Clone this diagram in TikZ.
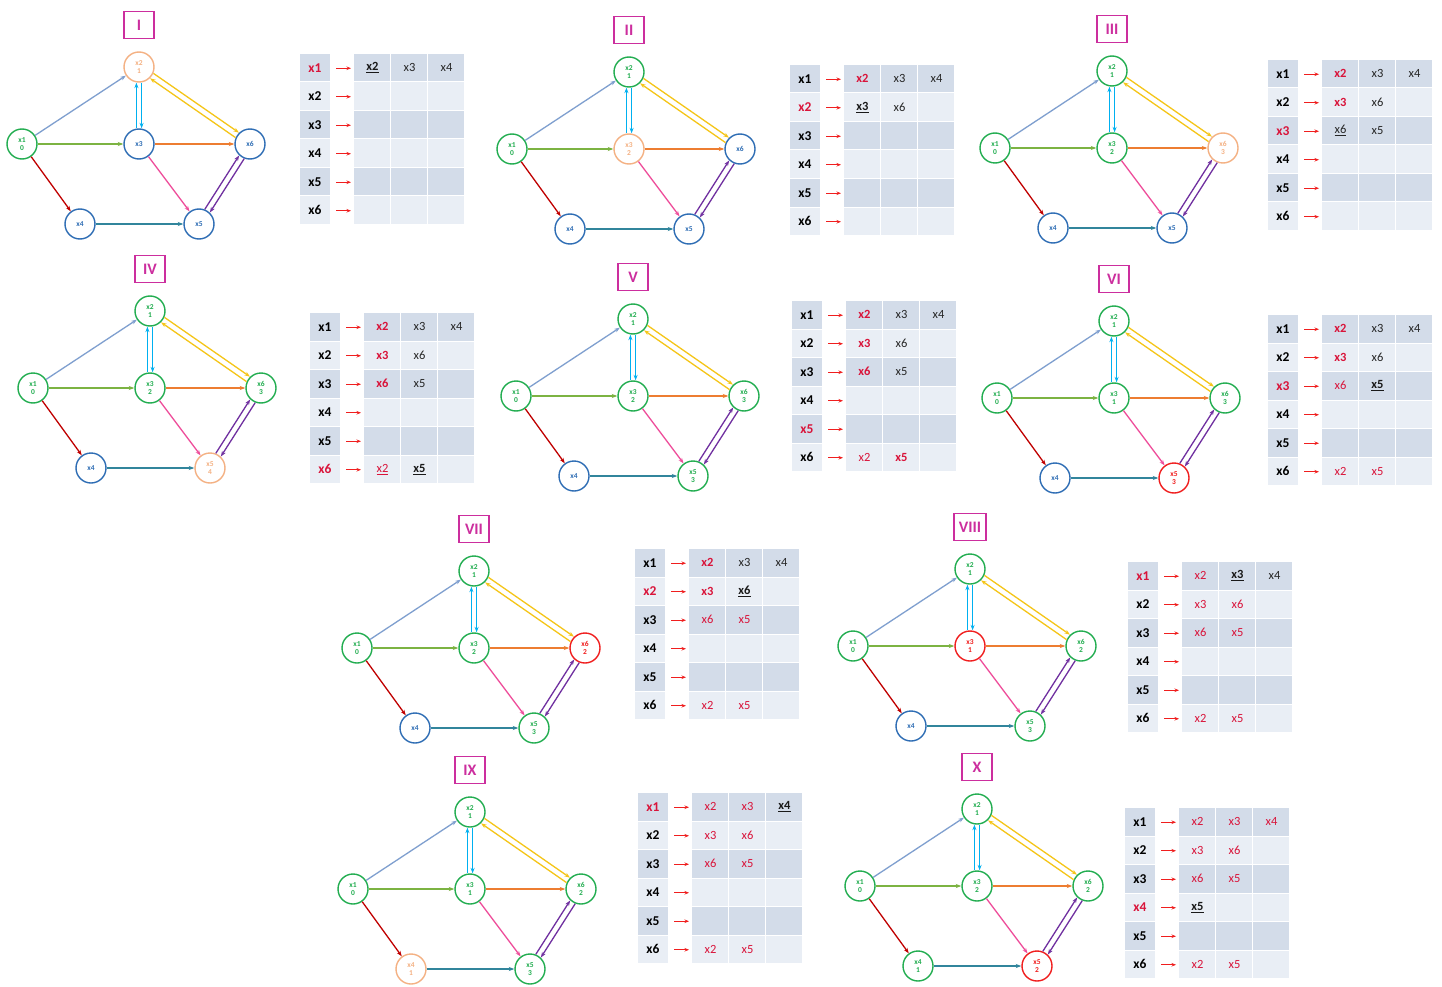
\documentclass[tikz,border=0pt]{standalone}
\usepackage{fontspec}
\setmainfont{Carlito}
\usetikzlibrary{arrows.meta,calc}
\definecolor{gC}{HTML}{22AD50}
\definecolor{bC}{HTML}{2E6DB4}
\definecolor{pC}{HTML}{F4B183}
\definecolor{rC}{HTML}{F01E1E}
\definecolor{mC}{HTML}{CC2E9E}
\definecolor{tR}{HTML}{D9143A}
\definecolor{tDark}{HTML}{D3DCE9}
\definecolor{tLight}{HTML}{E9EEF5}
\definecolor{cA}{HTML}{7F9FCF}
\definecolor{cB}{HTML}{7CB342}
\definecolor{cC}{HTML}{C00000}
\definecolor{cD}{HTML}{00B0F0}
\definecolor{cE}{HTML}{F5C518}
\definecolor{cF}{HTML}{ED7D31}
\definecolor{cG}{HTML}{EE4C9A}
\definecolor{cH}{HTML}{31859C}
\definecolor{cI}{HTML}{7030A0}
\tikzset{
 vtx/.style={circle,draw,fill=white,line width=1.4pt,minimum size=30pt,inner sep=0pt,align=center,font=\bfseries\fontsize{7.5}{8.5}\selectfont},
 G/.style={vtx,draw=gC,text=gC,node contents={x\cx\\#1}},
 B/.style={vtx,draw=bC,text=bC,node contents={x\cx}},
 P/.style={vtx,draw=pC,text=pC,node contents={x\cx\\#1}},
 R/.style={vtx,draw=rC,text=rC,node contents={x\cx\\#1}},
 ed/.style={line width=1.3pt,-{Stealth[length=5.5pt,width=4pt]}},
 pair/.style={ed,shorten <=15.5pt,shorten >=15.5pt},
 ttl/.style={draw=mC,line width=1.5pt,text=mC,fill=white,font=\bfseries\fontsize{16}{16}\selectfont,minimum width=30pt,minimum height=27pt,inner xsep=5pt},
 tlab/.style={font=\bfseries\fontsize{13.5}{14}\selectfont,inner sep=0pt},
 tarr/.style={draw=rC,line width=0.9pt,-{Stealth[length=4.5pt,width=3.5pt]}},
 N/.style={font=\fontsize{12.5}{13}\selectfont,text=black!85,inner sep=0pt},
 Rb/.style={font=\bfseries\fontsize{12.5}{13}\selectfont,text=tR,inner sep=0pt},
 Rn/.style={font=\fontsize{12.5}{13}\selectfont,text=tR,inner sep=0pt},
 U/.style={font=\bfseries\fontsize{12.5}{13}\selectfont,text=black!90,inner sep=0pt},
}
\newcommand\panel[9]{%
 \begin{scope}[shift={(#2)}]
  \node[ttl] (#1-t) at (0,-119) {#3};
  \def\cx{1}\node (#1-1) at (-117,0) [#4];
  \def\cx{2}\node (#1-2) at (0,-77) [#5];
  \def\cx{3}\node (#1-3) at (0,0) [#6];
  \def\cx{4}\node (#1-4) at (-59,80) [#7];
  \def\cx{5}\node (#1-5) at (60,80) [#8];
  \def\cx{6}\node (#1-6) at (111,0) [#9];
  \draw[ed,cA] (#1-1) -- (#1-2);
  \draw[ed,cB] (#1-1) -- (#1-3);
  \draw[ed,cC] (#1-1) -- (#1-4);
  \draw[ed,cF] (#1-3) -- (#1-6);
  \draw[ed,cG] (#1-3) -- (#1-5);
  \draw[ed,cH] (#1-4) -- (#1-5);
  \draw[ed,cD] ([xshift=-2.6pt]#1-3.north) -- ([xshift=-2.6pt]#1-2.south);
  \draw[ed,cD] ([xshift=2.6pt]#1-2.south) -- ([xshift=2.6pt]#1-3.north);
  \draw[pair,cE] ($(#1-2.center)!3pt!90:(#1-6.center)$) -- ($(#1-6.center)!3pt!-90:(#1-2.center)$);
  \draw[pair,cE] ($(#1-6.center)!3pt!90:(#1-2.center)$) -- ($(#1-2.center)!3pt!-90:(#1-6.center)$);
  \draw[pair,cI] ($(#1-5.center)!3pt!90:(#1-6.center)$) -- ($(#1-6.center)!3pt!-90:(#1-5.center)$);
  \draw[pair,cI] ($(#1-6.center)!3pt!90:(#1-5.center)$) -- ($(#1-5.center)!3pt!-90:(#1-6.center)$);
 \end{scope}}
\newcommand\te[4]{\node[#3] (\tn-#1-#2) at ({54+(#2-0.5)*37},{(#1-0.5)*28.5-0.5}) {#4};}
\newcommand\tbl[4]{%
 \begin{scope}[shift={(#2)}]
  \def\tn{#1}%
  \foreach \r in {1,3,5}{%
   \fill[tDark] (0,{(\r-1)*28.5}) rectangle (30,{\r*28.5-1});
   \foreach \c in {1,2,3}{\fill[tDark] ({54+(\c-1)*37},{(\r-1)*28.5}) rectangle ({54+\c*37-1},{\r*28.5-1});}}
  \foreach \r in {2,4,6}{%
   \fill[tLight] (0,{(\r-1)*28.5}) rectangle (30,{\r*28.5-1});
   \foreach \c in {1,2,3}{\fill[tLight] ({54+(\c-1)*37},{(\r-1)*28.5}) rectangle ({54+\c*37-1},{\r*28.5-1});}}
  \foreach \r in {1,...,6}{%
   \ifnum\r=#3\relax\def\lc{tR}\else\def\lc{black}\fi
   \node[tlab,text=\lc] (#1-l\r) at (15,{(\r-0.5)*28.5-0.5}) {x\r};
   \draw[tarr] (36,{(\r-0.5)*28.5}) -- (51,{(\r-0.5)*28.5});}
  #4
 \end{scope}}
\begin{document}
\begin{tikzpicture}[x=1pt,y=-1pt]
\useasboundingbox (0,0) rectangle (1442,987);
\fill[white] (0,0) rectangle (1442,987);
% graphs
\panel{p1}{139,144}{I}{G=0}{P=1}{B}{B}{B}{B}
\panel{p2}{629,149}{II}{G=0}{G=1}{P=2}{B}{B}{B}
\panel{p3}{1112,148}{III}{G=0}{G=1}{G=2}{B}{B}{P=3}
\panel{p4}{150,388}{IV}{G=0}{G=1}{G=2}{B}{P=4}{G=3}
\panel{p5}{633,396}{V}{G=0}{G=1}{G=2}{B}{G=3}{G=3}
\panel{p6}{1114,398}{VI}{G=0}{G=1}{G=1}{B}{R=3}{G=3}
\panel{p7}{474,648}{VII}{G=0}{G=1}{G=2}{B}{G=3}{R=2}
\panel{p8}{970,646}{VIII}{G=0}{G=1}{R=1}{B}{G=3}{G=2}
\panel{p9}{470,889}{IX}{G=0}{G=1}{G=1}{P=1}{G=3}{G=2}
\panel{p10}{977,886}{X}{G=0}{G=1}{G=2}{G=1}{R=2}{G=2}
% tables
\tbl{t1}{300,54}{1}{\te{1}{1}{U}{\underline{x2}}\te{1}{2}{N}{x3}\te{1}{3}{N}{x4}}
\tbl{t2}{790,65}{2}{\te{1}{1}{Rb}{x2}\te{1}{2}{N}{x3}\te{1}{3}{N}{x4}
 \te{2}{1}{U}{\underline{x3}}\te{2}{2}{N}{x6}}
\tbl{t3}{1268,60}{3}{\te{1}{1}{Rb}{x2}\te{1}{2}{N}{x3}\te{1}{3}{N}{x4}
 \te{2}{1}{Rb}{x3}\te{2}{2}{N}{x6}
 \te{3}{1}{N}{\underline{x6}}\te{3}{2}{N}{x5}}
\tbl{t4}{310,313}{6}{\te{1}{1}{Rb}{x2}\te{1}{2}{N}{x3}\te{1}{3}{N}{x4}
 \te{2}{1}{Rb}{x3}\te{2}{2}{N}{x6}
 \te{3}{1}{Rb}{x6}\te{3}{2}{N}{x5}
 \te{6}{1}{Rn}{\underline{x2}}\te{6}{2}{U}{\underline{x5}}}
\tbl{t5}{792,301}{5}{\te{1}{1}{Rb}{x2}\te{1}{2}{N}{x3}\te{1}{3}{N}{x4}
 \te{2}{1}{Rb}{x3}\te{2}{2}{N}{x6}
 \te{3}{1}{Rb}{x6}\te{3}{2}{N}{x5}
 \te{6}{1}{Rn}{x2}\te{6}{2}{Rb}{x5}}
\tbl{t6}{1268,315}{3}{\te{1}{1}{Rb}{x2}\te{1}{2}{N}{x3}\te{1}{3}{N}{x4}
 \te{2}{1}{Rb}{x3}\te{2}{2}{N}{x6}
 \te{3}{1}{Rn}{x6}\te{3}{2}{U}{\underline{x5}}
 \te{6}{1}{Rn}{x2}\te{6}{2}{Rn}{x5}}
\tbl{t7}{635,549}{2}{\te{1}{1}{Rb}{x2}\te{1}{2}{N}{x3}\te{1}{3}{N}{x4}
 \te{2}{1}{Rb}{x3}\te{2}{2}{U}{\underline{x6}}
 \te{3}{1}{Rn}{x6}\te{3}{2}{Rn}{x5}
 \te{6}{1}{Rn}{x2}\te{6}{2}{Rn}{x5}}
\tbl{t8}{1128,562}{1}{\te{1}{1}{Rn}{x2}\te{1}{2}{U}{\underline{x3}}\te{1}{3}{N}{x4}
 \te{2}{1}{Rn}{x3}\te{2}{2}{Rn}{x6}
 \te{3}{1}{Rn}{x6}\te{3}{2}{Rn}{x5}
 \te{6}{1}{Rn}{x2}\te{6}{2}{Rn}{x5}}
\tbl{t9}{638,793}{1}{\te{1}{1}{Rn}{x2}\te{1}{2}{Rn}{x3}\te{1}{3}{U}{\underline{x4}}
 \te{2}{1}{Rn}{x3}\te{2}{2}{Rn}{x6}
 \te{3}{1}{Rn}{x6}\te{3}{2}{Rn}{x5}
 \te{6}{1}{Rn}{x2}\te{6}{2}{Rn}{x5}}
\tbl{t10}{1125,808}{4}{\te{1}{1}{Rn}{x2}\te{1}{2}{Rn}{x3}\te{1}{3}{Rn}{x4}
 \te{2}{1}{Rn}{x3}\te{2}{2}{Rn}{x6}
 \te{3}{1}{Rn}{x6}\te{3}{2}{Rn}{x5}
 \te{4}{1}{U}{\underline{x5}}
 \te{6}{1}{Rn}{x2}\te{6}{2}{Rn}{x5}}
\end{tikzpicture}
\end{document}
